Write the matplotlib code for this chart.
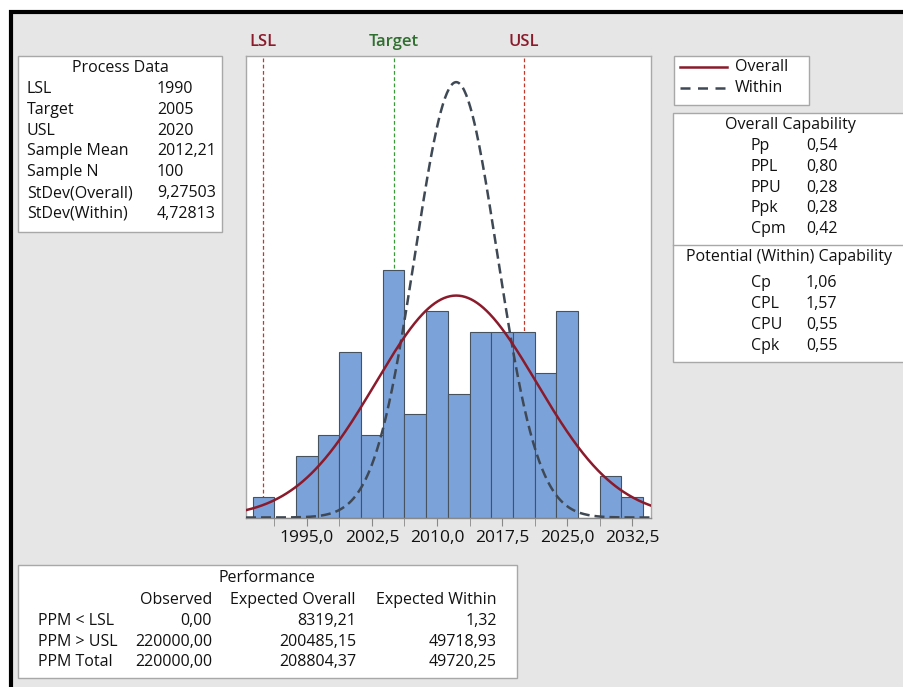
import matplotlib
matplotlib.use("Agg")
import matplotlib.pyplot as plt
import numpy as np
from matplotlib.lines import Line2D
from matplotlib.patches import Rectangle

plt.rcParams["font.family"] = ["Open Sans", "DejaVu Sans"]

# histogram (bin midpoints, counts)
bin_mids = [1990.0, 1992.5, 1995.0, 1997.5, 2000.0, 2002.5, 2005.0, 2007.5, 2010.0,
            2012.5, 2015.0, 2017.5, 2020.0, 2022.5, 2025.0, 2027.5, 2030.0, 2032.5]
counts = [1, 0, 3, 4, 8, 4, 12, 5, 10, 6, 9, 9, 9, 7, 10, 0, 2, 1]
bin_width = 2.5

lsl, target, usl = 1990, 2005, 2020
sample_mean = 2012.21
sample_n = 100
sd_overall = 9.27503
sd_within = 4.72813

tick_vals = [1995.0, 2002.5, 2010.0, 2017.5, 2025.0, 2032.5]

process_labels = ["LSL", "Target", "USL", "Sample Mean", "Sample N",
                  "StDev(Overall)", "StDev(Within)"]
process_values = ["1990", "2005", "2020", "2012,21", "100", "9,27503", "4,72813"]

overall_labels = ["Pp", "PPL", "PPU", "Ppk", "Cpm"]
overall_values = ["0,54", "0,80", "0,28", "0,28", "0,42"]
within_labels = ["Cp", "CPL", "CPU", "Cpk"]
within_values = ["1,06", "1,57", "0,55", "0,55"]

perf_cols = ["Observed", "Expected Overall", "Expected Within"]
perf_rows = ["PPM < LSL", "PPM > USL", "PPM Total"]
perf_observed = ["0,00", "220000,00", "220000,00"]
perf_exp_overall = ["8319,21", "200485,15", "208804,37"]
perf_exp_within = ["1,32", "49718,93", "49720,25"]

W, H = 904, 687
BG = "#e6e6e6"
BOX_EDGE = "#a8a8a8"
RED = "#8b1a2b"
GREEN = "#2f6f2f"
DASH_GRAY = "#3f4955"
TXT = "#111111"
FS = 11.5


def fx(px):
    return px / W


def fy(py):
    return 1 - py / H


def box(x0, y0, x1, y1):
    fig.add_artist(Rectangle((fx(x0), fy(y1)), fx(x1) - fx(x0), fy(y0) - fy(y1),
                             transform=fig.transFigure, facecolor="white",
                             edgecolor=BOX_EDGE, lw=1, clip_on=False))


def label(px, py, s, ha="left"):
    fig.text(fx(px), fy(py), s, ha=ha, va="center", fontsize=FS, color=TXT)


fig = plt.figure(figsize=(W / 100, H / 100), dpi=100, facecolor="white")

# gray panel with thick black frame
fig.add_artist(Rectangle((fx(11), fy(720)), fx(940) - fx(11), fy(12) - fy(720),
                         transform=fig.transFigure, facecolor=BG, edgecolor="black",
                         lw=3, clip_on=False, zorder=-5))

# main histogram
ax = fig.add_axes([fx(246), fy(517.5), fx(651) - fx(246), fy(56) - fy(517.5)])
ax.set_facecolor("white")
ax.bar(bin_mids, counts, width=bin_width, color="#7ba3da", edgecolor="#47525f",
       linewidth=0.8, zorder=2)

xs = np.linspace(1988.0, 2034.65, 400)
scale = sample_n * bin_width
pdf_overall = scale * np.exp(-0.5 * ((xs - sample_mean) / sd_overall) ** 2) / (sd_overall * np.sqrt(2 * np.pi))
pdf_within = scale * np.exp(-0.5 * ((xs - sample_mean) / sd_within) ** 2) / (sd_within * np.sqrt(2 * np.pi))
ax.plot(xs, pdf_within, color=DASH_GRAY, lw=1.8, dashes=(4, 2), zorder=3)
ax.plot(xs, pdf_overall, color=RED, lw=1.8, zorder=4)

for val, col in [(lsl, "#c0392b"), (target, "#3a9a3a"), (usl, "#c0392b")]:
    ax.axvline(val, color=col, lw=0.9, dashes=(3, 2), zorder=1)

ax.set_xlim(1988.0, 2034.65)
ax.set_ylim(0, 22.36)
ax.set_yticks([])
ax.set_xticks(tick_vals)
ax.set_xticklabels([f"{v:.1f}".replace(".", ",") for v in tick_vals], fontsize=12.5,
                   color=TXT)
ax.set_xticks([v + 3.75 for v in tick_vals[:-1]] + [tick_vals[0] - 3.75], minor=True)
ax.tick_params(axis="x", which="both", length=6, color="#888888", pad=3)
for sp in ax.spines.values():
    sp.set_color(BOX_EDGE)
    sp.set_linewidth(1)
ax.spines["bottom"].set_color("#888888")

for val, name, col in [(lsl, "LSL", RED), (target, "Target", GREEN), (usl, "USL", RED)]:
    ax.annotate(name, (val, 1.0), xycoords=("data", "axes fraction"),
                xytext=(0, 4), textcoords="offset points", ha="center", va="bottom",
                fontsize=12, fontweight="semibold", color=col)

# legend
box(674, 56, 809, 105)
fig.add_artist(Line2D([fx(680), fx(727)], [fy(67), fy(67)], transform=fig.transFigure,
                      color=RED, lw=1.8))
fig.add_artist(Line2D([fx(680), fx(727)], [fy(88), fy(88)], transform=fig.transFigure,
                      color=DASH_GRAY, lw=1.8, dashes=(4, 3)))
label(735, 67, "Overall")
label(735, 88, "Within")

# process data box
box(18, 56, 222, 232)
label(120, 68, "Process Data", ha="center")
for i, (lab, val) in enumerate(zip(process_labels, process_values)):
    y = 89 + i * 20.8
    label(27, y, lab)
    label(157, y, val)

# capability box
box(673, 113, 920, 362)
fig.add_artist(Line2D([fx(673), fx(920)], [fy(245), fy(245)], transform=fig.transFigure,
                      color=BOX_EDGE, lw=1))
label(790, 125, "Overall Capability", ha="center")
for i, (lab, val) in enumerate(zip(overall_labels, overall_values)):
    y = 146 + i * 20.8
    label(751, y, lab)
    label(806, y, val)
label(789, 257, "Potential (Within) Capability", ha="center")
for i, (lab, val) in enumerate(zip(within_labels, within_values)):
    y = 283 + i * 21
    label(751, y, lab)
    label(806, y, val)

# performance box
box(18, 565, 517, 678)
label(267, 578, "Performance", ha="center")
col_right = [212, 356, 497]
for x, name in zip(col_right, perf_cols):
    label(x, 600, name, ha="right")
for i, row in enumerate(perf_rows):
    y = 621 + i * 20.5
    label(38, y, row)
    for x, vals in zip(col_right, [perf_observed, perf_exp_overall, perf_exp_within]):
        label(x, y, vals[i], ha="right")

fig.savefig("out.png", dpi=100, facecolor=fig.get_facecolor())
